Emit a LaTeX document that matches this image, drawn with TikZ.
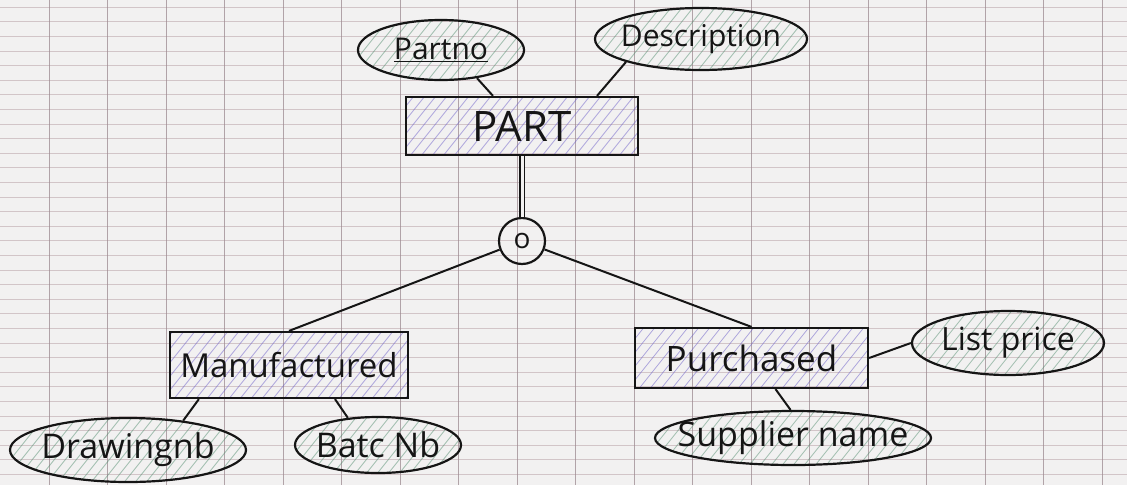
\documentclass[tikz,border=0pt]{standalone}
\usepackage{fontspec}
\setmainfont{Open Sans}
\usetikzlibrary{shapes.geometric}
\definecolor{paper}{HTML}{F2F1F1}
\definecolor{gridv}{HTML}{9C8A90}
\definecolor{gridh}{HTML}{B8A2A8}
\definecolor{hatchblue}{HTML}{6A5CC8}
\definecolor{hatchgreen}{HTML}{4E8A6C}
\definecolor{pen}{HTML}{151515}
\newcommand\fs[1]{\fontsize{#1}{#1}\selectfont}
\newcommand\hw[1]{\makebox[0pt]{#1}}
\begin{document}
\begin{tikzpicture}[x=1pt,y=-1pt,
  ink/.style={draw=pen, line width=2.2pt, text=pen},
  hatchfill/.style={path picture={
    \foreach \k in {-20,...,20}{
      \draw[#1, line width=0.8pt, opacity=0.5]
        ([xshift=\k*11pt]path picture bounding box.center) ++(-60pt,-75pt) -- ++(120pt,150pt);}}},
  entity/.style={ink, rectangle, inner sep=0pt, hatchfill=hatchblue},
  attr/.style={ink, ellipse, inner sep=0pt, hatchfill=hatchgreen},
  link/.style={draw=pen, line width=2pt}
]
\useasboundingbox (0,0) rectangle (1127,485);
% squared paper
\begin{scope}
\clip (0,0) rectangle (1127,485);
\fill[paper] (0,0) rectangle (1127,485);
\foreach \j in {0,...,33}{
  \draw[gridh, line width=0.6pt, opacity=0.55] (0,7+14.6*\j) -- (1127,7+14.6*\j);}
\foreach \i in {-1,...,19}{
  \draw[gridv, line width=0.8pt, opacity=0.75] (49+58.5*\i,0) -- (49+58.5*\i,485);}
\end{scope}

% entities
\node[entity, minimum width=232pt, minimum height=58pt, font=\fs{42}] (part) at (522,126) {PART};
\node[entity, minimum width=238pt, minimum height=66pt, font=\fs{33}] (manu) at (289,365) {Manufactured};
\node[entity, minimum width=233pt, minimum height=60pt, font=\fs{35}] (purch) at (751.5,358) {Purchased};

% specialisation circle
\node[ink, circle, minimum size=46pt, inner sep=0pt, font=\fs{28}] (spec) at (522,241) {o};

% attributes
\node[attr, minimum width=166pt, minimum height=60pt, font=\fs{30}] (partno) at (441,50) {\hw{\underline{Partno}}};
\node[attr, minimum width=212pt, minimum height=62pt, font=\fs{30}] (descr) at (701,39) {\hw{Description}};
\node[attr, minimum width=236pt, minimum height=64pt, font=\fs{34}] (drawnb) at (128,450) {\hw{Drawingnb}};
\node[attr, minimum width=166pt, minimum height=56pt, font=\fs{34}] (batchnb) at (378,445) {\hw{Batc Nb}};
\node[attr, minimum width=192pt, minimum height=64pt, font=\fs{32}] (listp) at (1008,343) {\hw{List price}};
\node[attr, minimum width=276pt, minimum height=54pt, font=\fs{34}] (suppn) at (793,438) {\hw{Supplier name}};

% connectors
\draw[link] (partno.-38) -- ([xshift=-29pt]part.north);
\draw[link] (descr.-163) -- ([xshift=75pt]part.north);
\draw[draw=pen, line width=1.6pt, double=paper, double distance=3pt] (part.south) -- (spec.north);
\draw[link] (spec) -- (manu.north);
\draw[link] (spec) -- (purch.north);
\draw[link] ([xshift=30pt]manu.south west) -- (drawnb.28);
\draw[link] ([xshift=46pt]manu.south) -- (batchnb.138);
\draw[link] (purch.east) -- (listp.west);
\draw[link] ([xshift=24pt]purch.south) -- (suppn.95);
\end{tikzpicture}
\end{document}
